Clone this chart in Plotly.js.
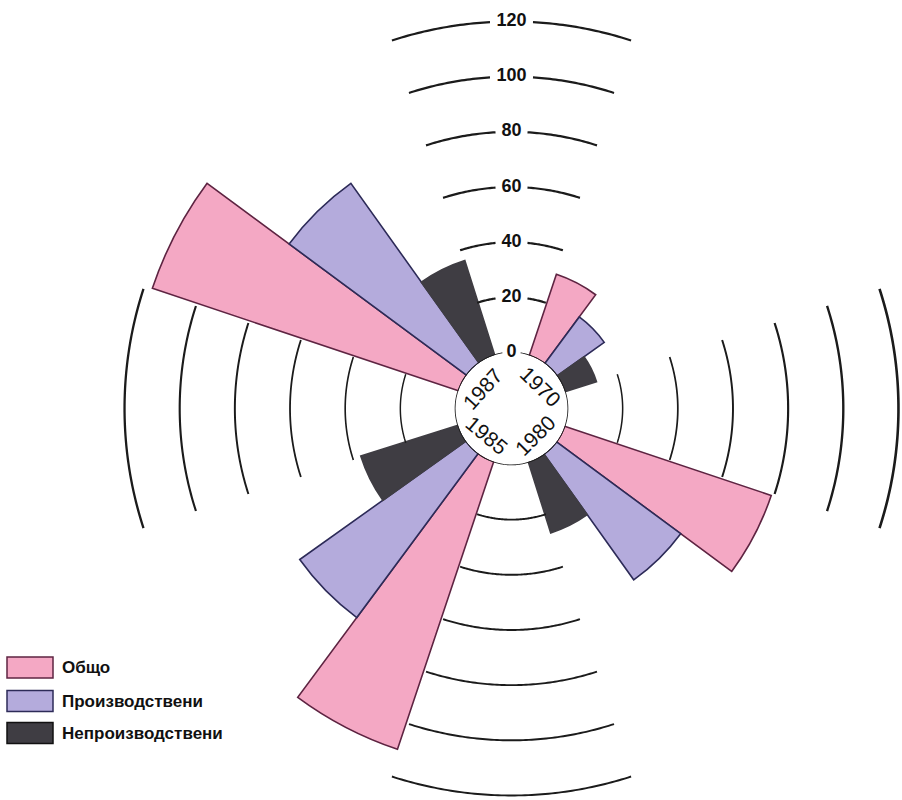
<!DOCTYPE html>
<html><head><meta charset="utf-8">
<script src="https://cdn.plot.ly/plotly-3.0.1.min.js"></script>
<style>html,body{margin:0;padding:0;background:#fff}</style>
</head><body><div id="chart" style="width:902px;height:800px"></div>
<script>
// ---- data ----
const years = ["1970", "1980", "1985", "1987"];
const seriesNames = ["Общо", "Производствени", "Непроизводствени"];
const total = [31, 79, 110, 117];
const productive = [21, 56, 74, 80];
const nonProductive = [12, 27, 37, 36];
const radialTicks = [0, 20, 40, 60, 80, 100, 120];
const radialTickLabels = ["0", "20", "40", "60", "80", "100", "120"];

// ---- layout constants ----
const W = 902, H = 800;
const CX = 511.5, CY = 408.5;   // polar centre (px)
const R = 390;                  // outer radius (px)
const HOLE = 56;                // hole radius (px)
const PXU = 2.758;              // px per unit
const RMAX = (R - HOLE) / PXU;
const FONT = 'Liberation Sans, Arial, sans-serif';

const fills = ["#f4a8c4", "#b4abdc", "#3f3d43"];
const edges = ["#5e2442", "#2d2b58", "#3f3d43"];
const seriesValues = [total, productive, nonProductive];
const groupCenter = i => 45.5 + 90 * i;
const offsets = [-18, 0, 18];
const barWidth = 18;

const traces = [];
seriesValues.forEach((vals, s) => {
  traces.push({
    type: 'barpolar', r: vals,
    theta: years.map((y, i) => groupCenter(i) + offsets[s]),
    width: years.map(() => barWidth),
    name: seriesNames[s],
    marker: {color: fills[s], line: {color: edges[s], width: 1.6}},
    hoverinfo: 'skip', showlegend: false
  });
});

// partial grid arcs in the gaps between groups
const rpx = v => HOLE + v * PXU;
function arc(v, a0, a1, w) {
  const th = [], rr = [];
  const n = Math.max(2, Math.ceil(Math.abs(a1 - a0) * 2));
  for (let k = 0; k <= n; k++) { th.push(a0 + (a1 - a0) * k / n); rr.push(v); }
  traces.push({type: 'scatterpolar', mode: 'lines', r: rr, theta: th,
    line: {color: '#1b1b1b', width: w}, hoverinfo: 'skip', showlegend: false});
}
const span = 18;
radialTicks.forEach((v, i) => {
  if (v === 0) return;
  const frac = i / (radialTicks.length - 1);
  // top (with label gap)
  const half = radialTickLabels[i].length * 5.5 + 5;
  const gap = half / rpx(v) * 180 / Math.PI;
  arc(v, -span, -gap, 2.2);
  arc(v, gap, span, 2.2);
  // right, bottom, left
  arc(v, 90 - span, 90 + span, 1.3 + 1.3 * frac);
  arc(v, 180 - span, 180 + span, 1.9);
  arc(v, 270 - span, 270 + span, 1.3 + 1.0 * frac);
});
// hole outline with gap for the "0" label
(function () {
  const g = 9 / HOLE * 180 / Math.PI;
  arc(0, g, 360 - g, 1.6);
})();

// radial tick labels along the top
traces.push({
  type: 'scatterpolar', mode: 'text', r: radialTicks, theta: radialTicks.map(() => 0),
  text: radialTickLabels, textposition: 'middle center',
  textfont: {family: FONT, size: 18, color: '#111', weight: 'bold'},
  hoverinfo: 'skip', showlegend: false, cliponaxis: false
});

// year labels in the hole
const yearAngle = [53, 139, 222, 305];
const yearRad = [36, 36, 37, 35];
const yearRot = [44, -45, 40, -48];
const annotations = years.map((y, i) => {
  const a = yearAngle[i] * Math.PI / 180;
  const px = CX + yearRad[i] * Math.sin(a), py = CY - yearRad[i] * Math.cos(a);
  return {text: y, x: px / W, y: 1 - py / H, xref: 'paper', yref: 'paper',
    xanchor: 'center', yanchor: 'middle', showarrow: false, textangle: yearRot[i],
    font: {family: FONT, size: 21, color: '#111'}};
});

// custom legend
const shapes = [];
const legendY = [667.5, 701, 733];
seriesNames.forEach((n, s) => {
  const yc = legendY[s];
  shapes.push({type: 'rect', xref: 'paper', yref: 'paper',
    x0: 7 / W, x1: 53 / W, y0: 1 - (yc + 10.5) / H, y1: 1 - (yc - 10.5) / H,
    fillcolor: fills[s], line: {color: s === 2 ? '#111' : edges[s], width: 1.5}});
  annotations.push({text: n, x: 60 / W, y: 1 - yc / H, xref: 'paper', yref: 'paper',
    xanchor: 'left', yanchor: 'middle', showarrow: false,
    font: {family: FONT, size: 17, color: '#111', weight: 'bold'}});
});

const layout = {
  width: W, height: H, autosize: false,
  margin: {l: 0, r: 0, t: 0, b: 0, pad: 0},
  paper_bgcolor: '#fff', plot_bgcolor: '#fff',
  showlegend: false,
  polar: {
    domain: {x: [(CX - R) / W, (CX + R) / W], y: [1 - (CY + R) / H, 1 - (CY - R) / H]},
    hole: HOLE / R,
    bgcolor: 'rgba(0,0,0,0)',
    barmode: 'overlay',
    radialaxis: {range: [0, RMAX], visible: false, showgrid: false, showline: false},
    angularaxis: {rotation: 90, direction: 'clockwise', visible: false, showgrid: false, showline: false}
  },
  shapes: shapes,
  annotations: annotations
};

Plotly.newPlot('chart', traces, layout, {staticPlot: true, displayModeBar: false});
</script>
</body></html>
